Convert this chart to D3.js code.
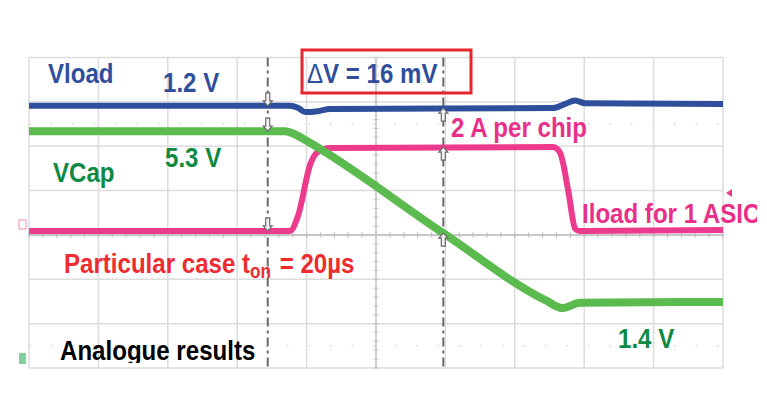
<!DOCTYPE html>
<html>
<head>
<meta charset="utf-8">
<script src="https://cdn.jsdelivr.net/npm/d3@7"></script>
<style>
  body { margin: 0; background: #fff; }
  text { font-family: "Liberation Sans", Arial, sans-serif; font-weight: bold; }
</style>
</head>
<body>
<svg id="scope" width="767" height="410"></svg>
<script>
// scope screen: 10 horizontal divisions, 7 vertical divisions
var xDivs = d3.range(0, 11);
var yDivs = d3.range(0, 8);

// traces, [time (div), level (div)]
var vload = [[0, 5.91], [3.76, 5.91], [3.88, 5.86], [3.98, 5.77], [4.16, 5.79], [4.34, 5.84],
             [7.55, 5.86], [7.72, 5.95], [7.87, 6.03], [8.01, 5.97], [10, 5.95]];
var vcap  = [[0, 5.34], [3.69, 5.34], [3.83, 5.27], [3.98, 5.14], [5.97, 3.04], [7.44, 1.53],
             [7.69, 1.35], [7.94, 1.47], [10, 1.49]];
var iload = [[0, 3.09], [3.76, 3.09], [3.88, 3.45], [4.05, 4.58], [4.16, 4.87], [4.34, 4.96],
             [7.55, 4.98], [7.65, 4.86], [7.77, 4.0], [7.87, 3.14], [7.93, 3.09], [10, 3.11]];

// cursor positions (div)
var cursors = [3.44, 5.97];

var svg = d3.select("#scope");

var x = d3.scaleLinear().domain([0, 10]).range([29, 723]);
var y = d3.scaleLinear().domain([0, 7]).range([368, 57.5]);

// grid
var grid = svg.append("g");
grid.selectAll(".vgrid")
  .data(xDivs)
  .enter()
  .append("line")
  .attr("x1", function(d) { return x(d); })
  .attr("x2", function(d) { return x(d); })
  .attr("y1", y(0))
  .attr("y2", y(7))
  .attr("stroke", "#dcdcdc")
  .attr("stroke-width", 1.5);

grid.selectAll(".hgrid")
  .data(yDivs)
  .enter()
  .append("line")
  .attr("x1", x(0))
  .attr("x2", x(10))
  .attr("y1", function(d) { return y(d); })
  .attr("y2", function(d) { return y(d); })
  .attr("stroke", "#dcdcdc")
  .attr("stroke-width", 1.5);

// dotted half rows
[0.5, 5.5].forEach(function(r)
{
  grid.append("line")
    .attr("x1", x(0)).attr("x2", x(10))
    .attr("y1", y(r)).attr("y2", y(r))
    .attr("stroke", "#d6d6d6")
    .attr("stroke-width", 1.5)
    .attr("stroke-dasharray", "1.5,20");
});

// centre axes with minor ticks
grid.append("line")
  .attr("x1", x(0)).attr("x2", x(10))
  .attr("y1", y(3)).attr("y2", y(3))
  .attr("stroke", "#bdbdbd").attr("stroke-width", 1.5);
grid.append("line")
  .attr("x1", x(5)).attr("x2", x(5))
  .attr("y1", y(0)).attr("y2", y(7))
  .attr("stroke", "#c8c8c8").attr("stroke-width", 1.5);

grid.selectAll(".xtick")
  .data(d3.range(0, 10.01, 0.2))
  .enter()
  .append("line")
  .attr("x1", function(d) { return x(d); })
  .attr("x2", function(d) { return x(d); })
  .attr("y1", y(3) - 2.5)
  .attr("y2", y(3) + 2.5)
  .attr("stroke", "#bdbdbd")
  .attr("stroke-width", 1.2);

grid.selectAll(".ytick")
  .data(d3.range(0, 7.01, 0.2))
  .enter()
  .append("line")
  .attr("x1", x(5) - 2.5)
  .attr("x2", x(5) + 2.5)
  .attr("y1", function(d) { return y(d); })
  .attr("y2", function(d) { return y(d); })
  .attr("stroke", "#c8c8c8")
  .attr("stroke-width", 1.2);

// cursors
svg.selectAll(".cursor")
  .data(cursors)
  .enter()
  .append("line")
  .attr("x1", function(d) { return x(d); })
  .attr("x2", function(d) { return x(d); })
  .attr("y1", y(7))
  .attr("y2", y(0))
  .attr("stroke", "#6b6b6b")
  .attr("stroke-width", 2)
  .attr("stroke-dasharray", "9,4,3,4");

// traces
var line = d3.line()
  .x(function(d) { return x(d[0]); })
  .y(function(d) { return y(d[1]); })
  .curve(d3.curveMonotoneX);

var traces = [
  { data: iload, color: "#ec3b8d", width: 6 },
  { data: vcap,  color: "#5cbb4f", width: 8 },
  { data: vload, color: "#2f4f9c", width: 6 }
];

traces.forEach(function(t)
{
  svg.append("path")
    .datum(t.data)
    .attr("fill", "none")
    .attr("stroke", t.color)
    .attr("stroke-width", t.width)
    .attr("stroke-linejoin", "round")
    .attr("d", line);
});

// cursor markers: arrow whose tip sits on the trace
function marker(cx, ty, down)
{
  var s = down ? 1 : -1;
  svg.append("path")
    .attr("d", "M" + (cx - 2) + "," + (ty - 13 * s) + " v" + (8 * s) + " h-2.5 l4.5," + (5 * s) +
               " l4.5," + (-5 * s) + " h-2.5 v" + (-8 * s) + " z")
    .attr("fill", "#f2f2f2")
    .attr("stroke", "#6a6a6a")
    .attr("stroke-width", 1.2);
}
marker(x(cursors[0]), y(5.91), true);
marker(x(cursors[0]), y(5.34), true);
marker(x(cursors[0]), y(3.09), true);
marker(x(cursors[1]), y(5.86), false);
marker(x(cursors[1]), y(4.98), false);
marker(x(cursors[1]), y(3.04), false);

// channel markers at left edge
svg.append("rect").attr("x", 19).attr("y", 220).attr("width", 7).attr("height", 9)
  .attr("fill", "none").attr("stroke", "#f08cb8").attr("stroke-width", 1);
svg.append("rect").attr("x", 19).attr("y", 353).attr("width", 7).attr("height", 11)
  .attr("fill", "#7fcf9a");
svg.append("path").attr("d", "M726,193 l6,-4 v8 z").attr("fill", "#ec3b8d");

// clipping for labels cut at the picture edges
var defs = svg.append("defs");
defs.append("clipPath").attr("id", "clipRight")
  .append("rect").attr("x", 0).attr("y", 0).attr("width", 757).attr("height", 410);
defs.append("clipPath").attr("id", "clipBottom")
  .append("rect").attr("x", 0).attr("y", 0).attr("width", 767).attr("height", 363);

// condensed bold labels (horizontal squeeze like the original slide font)
var squeeze = 0.86;
function label(txt, px, py, color, clip)
{
  var g = svg.append("g");
  if (clip) g.attr("clip-path", "url(#" + clip + ")");
  var t = g.append("text")
    .attr("transform", "translate(" + px + "," + py + ") scale(" + squeeze + ",1)")
    .attr("fill", color)
    .attr("font-size", 28)
    .text(txt);
  return t;
}

label("Vload", 48, 83, "#2f4f9c");
label("1.2 V", 163, 92, "#2f4f9c");
var dv = label("", 307, 83, "#2f4f9c");
dv.append("tspan").attr("font-weight", "normal").text("\u0394");
dv.append("tspan").text("V = 16 mV");

svg.append("rect")
  .attr("x", 302).attr("y", 50).attr("width", 169).attr("height", 43)
  .attr("fill", "none")
  .attr("stroke", "#e8262e")
  .attr("stroke-width", 3);

label("VCap", 53, 182, "#0f8a45");
label("5.3 V", 165, 167, "#0f8a45");
label("2 A per chip", 451, 137, "#e8308a");
label("Iload for 1 ASIC", 582, 223, "#e8308a", "clipRight");

var pc = label("Particular case t", 64, 273, "#ee2b2f");
pc.append("tspan").attr("font-size", 20).attr("dy", 5).text("on");
pc.append("tspan").attr("dy", -5).attr("dx", 10).text("= 20\u00b5s");

label("Analogue results", 60, 360, "#000", "clipBottom");
label("1.4 V", 618, 348, "#0f8a45");
</script>
</body>
</html>
